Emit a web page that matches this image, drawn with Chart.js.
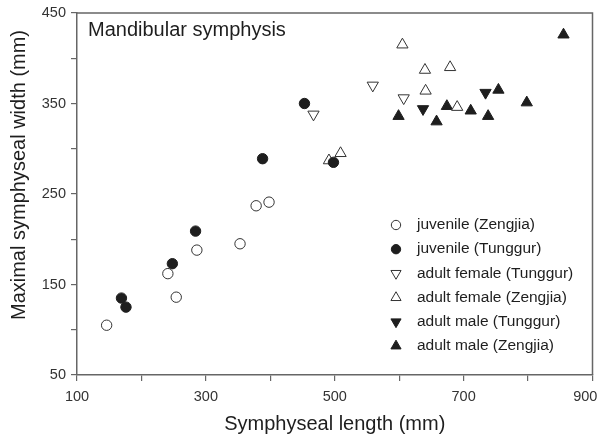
<!DOCTYPE html>
<html>
<head>
<meta charset="utf-8">
<script src="https://cdn.jsdelivr.net/npm/chart.js@4/dist/chart.umd.min.js"></script>
<style>
  html, body { margin: 0; padding: 0; background: #fff; }
  #wrap { width: 600px; height: 440px; }
</style>
</head>
<body>
<div id="wrap"><canvas id="myChart" width="600" height="440"></canvas></div>
<script>
// symphyseal length (x) / maximal symphyseal width (y), mm
const juvZengjiaX = [146, 241, 254, 286, 353, 378, 398];
const juvZengjiaY = [105, 162, 136, 188, 195, 237, 241];
const juvTunggurX = [169, 176, 248, 284, 388, 453, 498];
const juvTunggurY = [135, 125, 173, 209, 289, 350, 285];
const femTunggurX = [467, 559, 607];
const femTunggurY = [338, 370, 356];
const femZengjiaX = [491, 509, 605, 640, 679, 641, 690];
const femZengjiaY = [287, 295, 415, 387, 390, 364, 346];
const maleTunggurX = [637, 734];
const maleTunggurY = [344, 362];
const maleZengjiaX = [599, 658, 674, 711, 738, 754, 798, 855];
const maleZengjiaY = [336, 330, 347, 342, 336, 365, 351, 426];

const seriesLabels = [
  'juvenile (Zengjia)',
  'juvenile (Tunggur)',
  'adult female (Tunggur)',
  'adult female (Zengjia)',
  'adult male (Tunggur)',
  'adult male (Zengjia)',
];
const xTickLabels = [100, 300, 500, 700, 900];
const yTickLabels = [50, 150, 250, 350, 450];

const FONT = '"Liberation Sans", Arial, Helvetica, sans-serif';
const INK = '#1e1e1e';
const AXIS = '#666666';

const pts = (xs, ys) => xs.map((x, i) => ({x: x, y: ys[i]}));

const markerStyle = (filled, shape, rot, r) => ({
  pointStyle: shape,
  rotation: rot,
  pointRadius: r,
  pointHoverRadius: r,
  backgroundColor: filled ? INK : '#ffffff',
  borderColor: filled ? INK : '#333333',
  borderWidth: 1,
  showLine: false,
});

const data = {
  datasets: [
    Object.assign({label: seriesLabels[0], data: pts(juvZengjiaX, juvZengjiaY)}, markerStyle(false, 'circle', 0, 5.2)),
    Object.assign({label: seriesLabels[1], data: pts(juvTunggurX, juvTunggurY)}, markerStyle(true, 'circle', 0, 5.2)),
    Object.assign({label: seriesLabels[2], data: pts(femTunggurX, femTunggurY)}, markerStyle(false, 'triangle', 180, 6.5)),
    Object.assign({label: seriesLabels[3], data: pts(femZengjiaX, femZengjiaY)}, markerStyle(false, 'triangle', 0, 6.5)),
    Object.assign({label: seriesLabels[4], data: pts(maleTunggurX, maleTunggurY)}, markerStyle(true, 'triangle', 180, 6.5)),
    Object.assign({label: seriesLabels[5], data: pts(maleZengjiaX, maleZengjiaY)}, markerStyle(true, 'triangle', 0, 6.5)),
  ]
};

// frame, panel label, y title and the in-plot legend
const decorations = {
  id: 'decorations',
  afterDraw(chart) {
    const {ctx, chartArea} = chart;
    ctx.save();
    ctx.strokeStyle = AXIS;
    ctx.lineWidth = 1.5;
    ctx.beginPath();
    ctx.moveTo(chartArea.left, chartArea.top);
    ctx.lineTo(chartArea.right, chartArea.top);
    ctx.lineTo(chartArea.right, chartArea.bottom);
    ctx.stroke();

    ctx.fillStyle = INK;
    ctx.font = '20px ' + FONT;
    ctx.textAlign = 'left';
    ctx.textBaseline = 'middle';
    ctx.fillText('Mandibular symphysis', 88, 30);

    ctx.save();
    ctx.translate(19, 175);
    ctx.rotate(-Math.PI / 2);
    ctx.textAlign = 'center';
    ctx.fillText('Maximal symphyseal width (mm)', 0, 0);
    ctx.restore();

    // legend
    ctx.font = '15.5px ' + FONT;
    chart.data.datasets.forEach((ds, i) => {
      const y = 225 + i * 24.2;
      ctx.fillStyle = ds.backgroundColor;
      ctx.strokeStyle = ds.borderColor;
      ctx.lineWidth = ds.borderWidth;
      Chart.helpers.drawPoint(ctx, {
        pointStyle: ds.pointStyle,
        rotation: ds.rotation,
        radius: ds.pointRadius * 0.9,
        borderWidth: ds.borderWidth,
      }, 396, y);
      ctx.fillStyle = INK;
      ctx.fillText(ds.label, 417, y);
    });
    ctx.restore();
  }
};

const config = {
  type: 'scatter',
  data: data,
  options: {
    responsive: false,
    animation: false,
    devicePixelRatio: 1,
    layout: {
      padding: {top: 13, right: 7, left: 0, bottom: 0}
    },
    plugins: {
      legend: {display: false},
      tooltip: {enabled: false}
    },
    scales: {
      x: {
        type: 'linear',
        min: 100,
        max: 900,
        afterFit: (scale) => {
          scale.height = 65;
          scale.paddingLeft = 0;
          scale.paddingRight = 0;
        },
        ticks: {
          stepSize: 100,
          autoSkip: false,
          maxRotation: 0,
          padding: 7,
          color: '#333',
          font: {family: FONT, size: 14.5},
          // last label sits against the canvas edge, nudge it inwards
          callback: (v) => {
            if (!xTickLabels.includes(v)) return '';
            return v === 900 ? '900\u2003' : String(v);
          }
        },
        grid: {
          drawOnChartArea: false,
          drawTicks: true,
          tickLength: 6,
          color: AXIS,
          lineWidth: 1.2
        },
        border: {display: true, color: AXIS, width: 1.5},
        title: {
          display: true,
          text: 'Symphyseal length (mm)',
          color: INK,
          font: {family: FONT, size: 20},
          padding: {top: 0, bottom: 4}
        }
      },
      y: {
        type: 'linear',
        min: 50,
        max: 450,
        afterFit: (scale) => {
          scale.width = 77;
          scale.paddingTop = 0;
          scale.paddingBottom = 0;
        },
        ticks: {
          stepSize: 50,
          autoSkip: false,
          padding: 5,
          color: '#333',
          font: {family: FONT, size: 14.5},
          callback: (v) => yTickLabels.includes(v) ? String(v) : ''
        },
        grid: {
          drawOnChartArea: false,
          drawTicks: true,
          tickLength: 6,
          color: AXIS,
          lineWidth: 1.2
        },
        border: {display: true, color: AXIS, width: 1.5}
      }
    }
  },
  plugins: [decorations]
};

const myChart = new Chart(document.getElementById('myChart'), config);
</script>
</body>
</html>
